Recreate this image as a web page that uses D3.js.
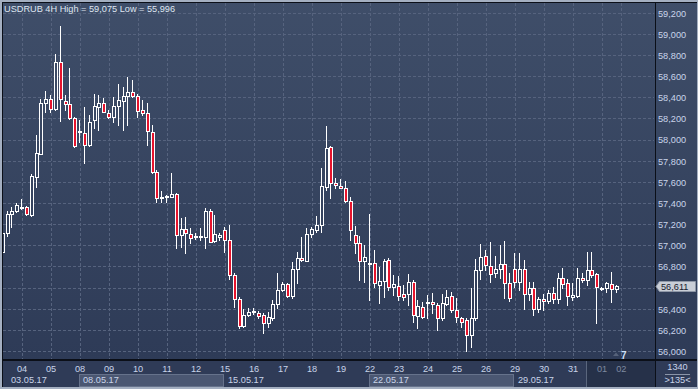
<!DOCTYPE html>
<html>
<head>
<meta charset="utf-8">
<script src="https://cdn.jsdelivr.net/npm/d3@7"></script>
<style>
    html, body { margin: 0; padding: 0; background: #2f3c58; }
    svg { display: block; font-family: "Liberation Sans", Arial, sans-serif; }
</style>
</head>
<body>
<div id="chart"></div>
<script>

var symbol = "USDRUB";
var period = "4H";

// trading days on the time axis and how many 4H bars each one has on screen
var days = ["03","04","05","08","09","10","11","12","15","16","17","18","19","22","23","24","25","26","29","30","31","01","02"];
var barsInDay = [4,6,6,6,6,6,6,6,6,6,6,6,6,6,6,6,6,6,6,6,6,4,0];
var weeks = ["03.05.17","08.05.17","15.05.17","22.05.17","29.05.17"];
var dimFromBar = 120.8;   // the greyed "01 02" part of the time scale

var yTicks = [56.0,56.2,56.4,56.6,56.8,57.0,57.2,57.4,57.6,57.8,58.0,58.2,58.4,58.6,58.8,59.0,59.2];

var opens = [56.937,57.119,57.293,57.321,57.353,57.359,57.286,57.649,57.863,58.343,
    58.381,58.286,58.734,58.368,58.336,58.201,58.070,58.059,57.948,58.185,
    58.311,58.343,58.248,58.216,58.318,58.368,58.409,58.453,58.415,58.280,
    58.248,58.074,57.696,57.447,57.454,57.460,57.485,57.097,57.154,57.104,
    57.076,57.078,57.081,57.327,57.041,57.081,57.145,57.050,56.719,56.489,
    56.237,56.341,56.367,56.357,56.341,56.262,56.309,56.442,56.577,56.631,
    56.520,56.776,56.877,56.854,57.104,57.145,57.189,57.554,57.927,57.586,
    57.564,57.545,57.422,57.097,57.024,56.851,56.823,56.830,56.624,56.662,
    56.861,56.603,56.615,56.536,56.536,56.656,56.331,56.419,56.457,56.461,
    56.435,56.309,56.445,56.520,56.388,56.309,56.293,56.151,56.309,56.766,
    56.901,56.807,56.735,56.776,56.820,56.640,56.773,56.656,56.773,56.536,
    56.599,56.397,56.492,56.476,56.546,56.489,56.688,56.640,56.514,56.520,
    56.688,56.672,56.766,56.728,56.593,56.593,56.634,56.584];

var highs = [57.135,57.327,57.359,57.397,57.435,57.371,57.674,58.043,58.384,58.462,
    58.422,58.809,59.075,58.422,58.674,58.213,58.185,58.311,58.232,58.428,
    58.422,58.390,58.280,58.405,58.526,58.494,58.589,58.563,58.431,58.374,
    58.343,58.138,57.712,57.516,57.476,57.687,57.495,57.255,57.265,57.161,
    57.113,57.161,57.350,57.340,57.286,57.113,57.170,57.192,56.738,56.514,
    56.394,56.404,56.404,56.381,56.357,56.372,56.482,56.735,56.656,56.640,
    56.845,56.939,57.081,57.166,57.176,57.277,57.728,58.128,57.939,57.634,
    57.624,57.608,57.454,57.182,57.088,57.003,57.296,56.955,56.797,56.870,
    56.877,56.719,56.709,56.624,56.728,56.672,56.482,56.466,56.530,56.546,
    56.451,56.539,56.577,56.561,56.499,56.324,56.312,56.596,56.870,57.009,
    56.955,57.028,56.901,57.003,57.041,56.735,56.924,56.924,56.861,56.656,
    56.656,56.514,56.539,56.577,56.608,56.735,56.782,56.678,56.640,56.782,
    56.735,56.939,56.939,56.741,56.608,56.656,56.750,56.624];

var lows = [56.918,57.088,57.170,57.315,57.340,57.286,57.280,57.554,57.859,58.264,
    58.264,58.280,58.178,58.280,58.195,57.927,57.977,57.775,57.939,58.109,
    58.090,58.261,58.201,58.169,58.138,58.090,58.138,58.405,58.216,58.232,
    57.948,57.687,57.412,57.412,57.412,57.457,56.974,56.987,56.927,57.022,
    57.062,57.050,56.971,57.031,57.034,57.050,56.939,56.678,56.419,56.215,
    56.224,56.331,56.350,56.309,56.173,56.224,56.293,56.410,56.572,56.514,
    56.499,56.646,56.854,56.849,57.081,57.128,57.128,57.523,57.444,57.545,
    57.539,57.412,57.050,56.930,56.672,56.656,56.482,56.603,56.451,56.514,
    56.577,56.530,56.482,56.482,56.435,56.277,56.215,56.309,56.309,56.362,
    56.199,56.293,56.435,56.372,56.277,56.227,55.996,56.035,56.293,56.681,
    56.766,56.656,56.703,56.688,56.499,56.476,56.608,56.577,56.397,56.482,
    56.341,56.372,56.388,56.451,56.451,56.451,56.593,56.435,56.482,56.514,
    56.656,56.624,56.703,56.268,56.577,56.561,56.466,56.561];

var closes = [57.119,57.293,57.327,57.378,57.365,57.293,57.655,57.870,58.343,58.381,
    58.286,58.734,58.381,58.336,58.201,57.939,58.079,57.948,58.169,58.318,
    58.343,58.264,58.216,58.318,58.374,58.415,58.447,58.415,58.273,58.248,
    58.081,57.696,57.444,57.461,57.466,57.485,57.097,57.154,57.113,57.066,
    57.085,57.085,57.327,57.034,57.104,57.097,57.050,56.719,56.489,56.237,
    56.341,56.372,56.376,56.331,56.262,56.319,56.442,56.577,56.631,56.520,
    56.776,56.877,56.861,57.104,57.151,57.189,57.561,57.917,57.586,57.570,
    57.545,57.422,57.145,57.026,56.851,56.886,56.832,56.640,56.662,56.854,
    56.603,56.631,56.520,56.514,56.656,56.341,56.426,56.324,56.466,56.445,
    56.309,56.451,56.514,56.388,56.319,56.277,56.151,56.309,56.766,56.892,
    56.814,56.726,56.776,56.820,56.640,56.504,56.656,56.773,56.536,56.599,
    56.397,56.492,56.476,56.546,56.489,56.688,56.634,56.520,56.530,56.688,
    56.672,56.766,56.719,56.608,56.599,56.640,56.584,56.611];

var footTop = "1340";
var footBottom = ">135<";
var markerCount = "7";


CandleVis = function(_parentElement) {
    this.parentElement = _parentElement;
    this.initVis();
};

CandleVis.prototype.initVis = function() {
    var vis = this;

    vis.width = 698;
    vis.height = 389;
    vis.plot = {left: 3, top: 3, right: 655, bottom: 360};

    vis.svg = d3.select(vis.parentElement).append("svg")
        .attr("width", vis.width)
        .attr("height", vis.height);

    var grad = vis.svg.append("defs").append("linearGradient")
        .attr("id", "bg")
        .attr("gradientUnits", "userSpaceOnUse")
        .attr("x1", 0).attr("y1", 0).attr("x2", 0).attr("y2", vis.plot.bottom);
    grad.append("stop").attr("offset", "0%").attr("stop-color", "#3f4e69");
    grad.append("stop").attr("offset", "100%").attr("stop-color", "#2e3b57");

    vis.x = d3.scaleLinear().domain([0, 135]).range([2.7, 655.2]);
    vis.y = d3.scaleLinear().domain([56.0, 59.2]).range([351, 12.7]);

    vis.fmt = d3.formatLocale({decimal: ",", thousands: " ", grouping: [3], currency: ["", ""]}).format(".3f");

    vis.wrangleData();
};

CandleVis.prototype.wrangleData = function() {
    var vis = this;

    // first bar of every day
    vis.dayStart = [];
    var n = 0;
    days.forEach(function(d, i) {
        vis.dayStart.push(n);
        n += barsInDay[i];
    });

    vis.data = opens.map(function(o, i) {
        return {i: i, open: o, high: highs[i], low: lows[i], close: closes[i]};
    });

    vis.last = closes[closes.length - 1];

    // the last-price tag hides the scale label it sits on
    vis.priceLabels = yTicks.filter(function(t) {
        return Math.abs(vis.y(t) - vis.y(vis.last)) > 9;
    });

    vis.updateVis();
};

CandleVis.prototype.updateVis = function() {
    var vis = this;
    var p = vis.plot;
    var svg = vis.svg;

    // backgrounds
    svg.append("rect").attr("x", 0).attr("y", 0).attr("width", vis.width).attr("height", p.bottom)
        .attr("fill", "url(#bg)");
    svg.append("rect").attr("x", 0).attr("y", p.bottom).attr("width", vis.width).attr("height", vis.height - p.bottom)
        .attr("fill", "#2f3b57");

    // grid
    var grid = svg.append("g")
        .attr("stroke", "#56637e")
        .attr("stroke-dasharray", "3,2")
        .attr("shape-rendering", "crispEdges");

    grid.selectAll(".hgrid")
        .data(yTicks)
        .enter().append("line")
        .attr("class", "hgrid")
        .attr("x1", p.left).attr("x2", p.right - 1)
        .attr("y1", function(d) { return Math.round(vis.y(d)) + 0.5; })
        .attr("y2", function(d) { return Math.round(vis.y(d)) + 0.5; });

    grid.selectAll(".vgrid")
        .data(vis.dayStart.slice(1))
        .enter().append("line")
        .attr("class", "vgrid")
        .attr("y1", p.top).attr("y2", p.bottom - 1)
        .attr("x1", function(d) { return Math.round(vis.x(d)) + 0.5; })
        .attr("x2", function(d) { return Math.round(vis.x(d)) + 0.5; });

    // candles
    var candles = svg.append("g").attr("shape-rendering", "crispEdges");

    var cx = function(d) { return Math.round(vis.x(d.i)); };

    candles.selectAll(".wick")
        .data(vis.data)
        .enter().append("line")
        .attr("class", "wick")
        .attr("x1", function(d) { return cx(d) - 0.5; })
        .attr("x2", function(d) { return cx(d) - 0.5; })
        .attr("y1", function(d) { return Math.round(vis.y(d.high)); })
        .attr("y2", function(d) { return Math.round(vis.y(d.low)) + 1; })
        .attr("stroke", "#ffffff")
        .attr("stroke-width", 1);

    candles.selectAll(".body")
        .data(vis.data)
        .enter().append("rect")
        .attr("class", "body")
        .attr("x", function(d) { return cx(d) - 1.5; })
        .attr("width", 3)
        .attr("y", function(d) { return Math.round(vis.y(Math.max(d.open, d.close))) + 0.5; })
        .attr("height", function(d) {
            var h = Math.round(vis.y(Math.min(d.open, d.close))) - Math.round(vis.y(Math.max(d.open, d.close)));
            return Math.max(h, 1);
        })
        .attr("fill", function(d) {
            if (d.close >= d.open) {
                return "url(#bg)";
            } else {
                return "#e6142d";
            }
        })
        .attr("stroke", "#ffffff")
        .attr("stroke-width", 1);

    // frame
    svg.append("rect").attr("x", 0).attr("y", 0).attr("width", vis.width).attr("height", 2).attr("fill", "#a4afc1");
    svg.append("rect").attr("x", 0).attr("y", 0).attr("width", 2).attr("height", vis.height).attr("fill", "#a4afc1");
    svg.append("rect").attr("x", 697).attr("y", 0).attr("width", 1).attr("height", vis.height).attr("fill", "#a4afc1");
    svg.append("rect").attr("x", 0).attr("y", 387).attr("width", vis.width).attr("height", 2).attr("fill", "#a4afc1");
    svg.append("rect").attr("x", 2).attr("y", 2).attr("width", vis.width - 3).attr("height", 1).attr("fill", "#0b0f18");
    svg.append("rect").attr("x", 2).attr("y", 2).attr("width", 1).attr("height", 385).attr("fill", "#0b0f18");
    svg.append("rect").attr("x", 2).attr("y", p.bottom - 1).attr("width", vis.width - 3).attr("height", 2).attr("fill", "#0b0f18");

    // time axis: week bands
    var weekStart = weeks.map(function(w) { return vis.dayStart[days.indexOf(w.slice(0, 2))]; });
    var dimX = vis.x(dimFromBar);

    weeks.forEach(function(w, k) {
        var x0 = k === 0 ? p.left : Math.round(vis.x(weekStart[k])) - 1;
        var x1 = k < weeks.length - 1 ? Math.round(vis.x(weekStart[k + 1])) - 1 : Math.round(dimX);
        if (k % 2 === 1) {
            svg.append("rect")
                .attr("x", x0 + 0.5).attr("y", 374.5)
                .attr("width", x1 - x0 - 1).attr("height", 12)
                .attr("fill", "#4b5772")
                .attr("stroke", "#66728b")
                .attr("shape-rendering", "crispEdges");
        }
        svg.append("text")
            .attr("x", k === 0 ? 11 : x0 + 4)
            .attr("y", 383)
            .attr("font-size", "9.2px")
            .attr("fill", "#c9d4ea")
            .text(w);
    });

    // dimmed tail of the time scale
    svg.append("rect")
        .attr("x", Math.round(dimX)).attr("y", p.bottom + 1)
        .attr("width", p.right - Math.round(dimX)).attr("height", 387 - p.bottom - 1)
        .attr("fill", "#263149");
    svg.append("rect")
        .attr("x", Math.round(dimX) - 1).attr("y", p.bottom + 1)
        .attr("width", 1).attr("height", 387 - p.bottom - 1)
        .attr("fill", "#5a667d");

    svg.selectAll(".dayLabel")
        .data(days.slice(1))
        .enter().append("text")
        .attr("class", "dayLabel")
        .attr("x", function(d, i) { return vis.x(vis.dayStart[i + 1]); })
        .attr("y", 372)
        .attr("text-anchor", "middle")
        .attr("font-size", "9.2px")
        .attr("fill", function(d, i) {
            return vis.dayStart[i + 1] >= dimFromBar ? "#7f8aa0" : "#c9d4ea";
        })
        .text(function(d) { return d; });

    // price axis
    svg.append("rect").attr("x", p.right).attr("y", p.top).attr("width", 1).attr("height", 387 - p.top)
        .attr("fill", "#0b0f18");

    svg.selectAll(".priceLabel")
        .data(vis.priceLabels)
        .enter().append("text")
        .attr("class", "priceLabel")
        .attr("x", 658)
        .attr("y", function(d) { return vis.y(d) + 3.8; })
        .attr("font-size", "9.2px")
        .attr("fill", "#c9d4ea")
        .text(function(d) { return vis.fmt(d); });

    // last price tag
    var ly = Math.round(vis.y(vis.last));
    svg.append("path")
        .attr("d", "M" + (p.right + 1) + "," + (ly + 0.5) +
            " L" + 659.5 + "," + (ly - 4.5) +
            " L" + 695.5 + "," + (ly - 4.5) +
            " L" + 695.5 + "," + (ly + 5.5) +
            " L" + 659.5 + "," + (ly + 5.5) + " Z")
        .attr("fill", "#c9ced7")
        .attr("stroke", "#8f98a8");
    svg.append("text")
        .attr("x", 661)
        .attr("y", ly + 4)
        .attr("font-size", "9.2px")
        .attr("fill", "#18202e")
        .text(vis.fmt(vis.last));

    // title
    svg.append("text")
        .attr("x", 4)
        .attr("y", 12)
        .attr("font-size", "9.2px")
        .attr("fill", "#dfe6f1")
        .text(symbol + " " + period + " High = " + vis.fmt(d3.max(highs)) + " Low = " + vis.fmt(d3.min(lows)));

    // marker count near the bottom
    svg.append("path")
        .attr("d", "M613,356 L616,352.5 L619,356 Z")
        .attr("fill", "#56627a");
    svg.append("text")
        .attr("x", 621)
        .attr("y", 358.5)
        .attr("font-size", "10px")
        .attr("font-weight", "bold")
        .attr("fill", "#d2e1f7")
        .text(markerCount);

    // corner box
    svg.append("text")
        .attr("x", 677.5).attr("y", 370)
        .attr("text-anchor", "middle")
        .attr("font-size", "9.2px")
        .attr("fill", "#c9d4ea")
        .text(footTop);
    svg.append("rect").attr("x", 665).attr("y", 374).attr("width", 25).attr("height", 1).attr("fill", "#8a94a8");
    svg.append("text")
        .attr("x", 677.5).attr("y", 383)
        .attr("text-anchor", "middle")
        .attr("font-size", "9.2px")
        .attr("fill", "#c9d4ea")
        .text(footBottom);
};

new CandleVis("#chart");

</script>
</body>
</html>
